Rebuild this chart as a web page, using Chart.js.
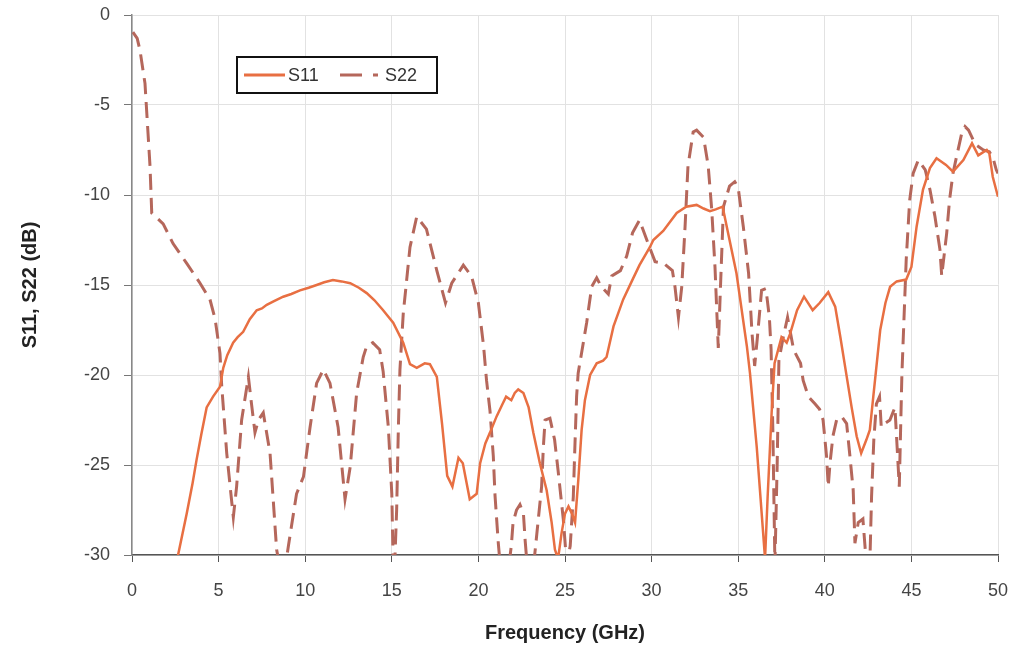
<!DOCTYPE html>
<html lang="en">
<head>
<meta charset="UTF-8">
<title>S11, S22</title>
<script src="https://cdn.jsdelivr.net/npm/chart.js"></script>
<style>
  html, body { margin: 0; padding: 0; background: #fff; }
  #box { width: 1023px; height: 656px; }
</style>
</head>
<body>
<div id="box"><canvas id="grafico"></canvas></div>
<script>
// frequency (GHz) and magnitude (dB)
var s11Freq = [2.5, 2.66, 3.16, 3.5, 3.73, 4.0, 4.31, 4.68, 5.08, 5.27, 5.5, 5.84, 6.1, 6.42, 6.8, 7.2, 7.5, 7.78, 8.2, 8.73,
  9.2, 9.7, 10.2, 10.66, 11.1, 11.6, 12.1, 12.6, 13.1, 13.55, 14.0, 14.5, 15.08, 15.66, 16.05, 16.44, 16.9, 17.2, 17.6, 17.9,
  18.2, 18.5, 18.85, 19.1, 19.5, 19.9, 20.1, 20.4, 20.67, 21.05, 21.4, 21.6, 21.9, 22.1, 22.3, 22.6, 22.9, 23.17, 23.55, 23.94,
  24.23, 24.42, 24.6, 24.8, 25.0, 25.2, 25.4, 25.58, 25.77, 25.96, 26.15, 26.45, 26.83, 27.2, 27.4, 27.8, 28.36, 28.9, 29.3, 29.9,
  30.1, 30.67, 31.45, 32.0, 32.6, 33.0, 33.37, 33.7, 34.1, 34.5, 34.9, 35.5, 35.68, 36.07, 36.55, 36.7, 36.93, 37.1, 37.5, 37.8,
  38.0, 38.4, 38.8, 39.3, 39.7, 40.2, 40.6, 40.9, 41.3, 41.55, 41.84, 42.1, 42.4, 42.6, 42.8, 43.0, 43.2, 43.5, 43.77, 44.15,
  44.7, 45.0, 45.3, 45.67, 46.07, 46.45, 47.0, 47.4, 48.0, 48.5, 48.86, 49.35, 49.5, 49.7, 50];
var s11Db = [-31, -30, -27.7, -26.0, -24.7, -23.3, -21.8, -21.2, -20.65, -19.6, -18.9, -18.2, -17.9, -17.6, -16.9, -16.4, -16.3, -16.1, -15.9, -15.65,
  -15.5, -15.3, -15.15, -15.0, -14.85, -14.72, -14.8, -14.9, -15.15, -15.45, -15.85, -16.4, -17.1, -18.2, -19.4, -19.6, -19.35, -19.4, -20.1, -22.7,
  -25.6, -26.2, -24.6, -24.9, -26.9, -26.6, -24.9, -23.8, -23.2, -22.3, -21.6, -21.2, -21.4, -21.0, -20.8, -21.0, -21.8, -23.2, -24.9, -26.4,
  -28.2, -29.7, -30.2, -28.8, -27.7, -27.3, -27.7, -28.2, -25.8, -23.05, -21.4, -20.0, -19.35, -19.2, -19.0, -17.3, -15.8, -14.7, -13.9, -12.9,
  -12.5, -12.0, -11.0, -10.65, -10.55, -10.75, -10.9, -10.8, -10.65, -12.5, -14.35, -18.4, -19.9, -24, -30.2, -26.75, -22.1, -19.35, -17.9, -18.2,
  -17.7, -16.4, -15.65, -16.4, -16.0, -15.4, -16.2, -17.9, -20.3, -21.8, -23.4, -24.35, -23.6, -23.05, -21.2, -19.35, -17.5, -16.0, -15.1, -14.8,
  -14.7, -14.0, -11.76, -9.7, -8.5, -7.96, -8.33, -8.7, -8.06, -7.13, -7.8, -7.5, -7.7, -9.0, -10.1];

var s22Freq = [0.05, 0.3, 0.46, 0.75, 1.04, 1.14, 1.8, 2.37, 3.16, 3.93, 4.5, 4.8, 5.08, 5.18, 5.47, 5.85, 6.04, 6.33, 6.72, 6.9,
  7.1, 7.3, 7.58, 7.97, 8.35, 8.6, 8.8, 9.03, 9.5, 9.9, 10.28, 10.66, 11.05, 11.43, 11.9, 12.3, 12.6, 12.97, 13.35, 13.55,
  13.9, 14.3, 14.5, 14.8, 15.0, 15.07, 15.15, 15.28, 15.38, 15.47, 15.66, 16.05, 16.44, 17.0, 17.6, 18.1, 18.46, 19.13, 19.6, 20.0,
  20.3, 20.47, 20.67, 20.86, 20.96, 21.15, 21.3, 21.7, 21.9, 22.0, 22.2, 22.4, 22.6, 22.7, 22.85, 23.15, 23.25, 23.46, 23.65, 23.75,
  23.85, 24.13, 24.4, 24.6, 24.9, 25.1, 25.3, 25.48, 25.57, 25.67, 25.76, 26.25, 26.54, 26.83, 27.1, 27.5, 27.7, 28.2, 28.56, 28.9,
  29.3, 29.8, 30.2, 30.7, 31.2, 31.35, 31.55, 31.74, 31.93, 32.1, 32.4, 32.6, 33.0, 33.27, 33.47, 33.66, 33.85, 34.0, 34.15, 34.5,
  34.8, 35.0, 35.3, 35.6, 35.8, 35.95, 36.1, 36.35, 36.6, 36.8, 36.9, 37.0, 37.12, 37.25, 37.35, 37.6, 37.85, 38.2, 38.6, 38.75,
  39.05, 39.43, 39.7, 39.9, 40.1, 40.2, 40.3, 40.47, 40.68, 40.97, 41.26, 41.45, 41.64, 41.74, 41.93, 42.2, 42.4, 42.6, 42.7, 42.83,
  42.98, 43.16, 43.26, 43.45, 43.76, 44.05, 44.3, 44.45, 44.7, 44.9, 45.1, 45.4, 45.8, 46.07, 46.36, 46.65, 46.75, 47.04, 47.2, 47.4,
  47.6, 47.9, 48.1, 48.3, 48.7, 49.15, 49.5, 49.7, 49.9, 50];
var s22Db = [-0.95, -1.3, -1.95, -3.8, -8.4, -11.0, -11.6, -12.7, -13.8, -14.9, -15.8, -16.9, -18.8, -20.6, -24.35, -27.9, -26.2, -22.5, -20.1, -21.6,
  -23.2, -22.5, -22.1, -24.35, -29.7, -31, -31, -29.5, -26.6, -25.65, -22.9, -20.45, -19.7, -20.45, -22.9, -26.9, -25.1, -21.0, -19.0, -18.4,
  -18.2, -18.6, -19.8, -22.9, -26.6, -30, -31, -27.5, -22.9, -19.7, -16.6, -12.9, -11.2, -11.9, -14.2, -16.0, -14.9, -13.9, -14.5, -16.0,
  -18.4, -20.3, -22.0, -24.5, -26.7, -29.35, -31, -31, -29.5, -28.2, -27.5, -27.2, -27.7, -29.2, -31, -31, -30, -28, -26.2, -24,
  -22.5, -22.4, -23.6, -25.3, -28, -30.5, -29.5, -26.75, -24, -21.2, -19.9, -17.1, -15.1, -14.6, -15.1, -15.5, -14.5, -14.2, -13.4, -12.1,
  -11.4, -12.7, -13.7, -13.8, -14.2, -15.1, -16.8, -15.1, -11.8, -8.4, -6.5, -6.4, -6.8, -8.4, -10.8, -14.0, -18.5, -14.5, -10.65, -9.5,
  -9.26, -9.6, -11.8, -14.35, -17.7, -19.5, -18.0, -15.3, -15.2, -16.8, -18.6, -23, -30.5, -25, -19.2, -17.9, -16.8, -18.6, -19.35, -20.3,
  -21.2, -21.6, -21.9, -22.5, -24.5, -26.2, -24.9, -23.4, -22.5, -22.3, -22.7, -24.5, -26.4, -29.35, -28.2, -28, -30.5, -30.5, -26.75, -23.6,
  -21.6, -21.2, -22.9, -22.7, -22.5, -21.8, -26.2, -20, -13.6, -10.3, -8.8, -8.06, -8.6, -9.7, -11.2, -13.05, -14.5, -12.1, -10.3, -8.8,
  -7.9, -6.6, -6.2, -6.4, -7.2, -7.5, -7.6, -7.9, -8.6, -8.8];

var nomes = ['S11', 'S22'];
var cores = ['#e86f42', '#b5675b'];

function pontos(xs, ys) {
  var lista = [];
  for (var i = 0; i < xs.length; i++) {
    lista.push({ x: xs[i], y: ys[i] });
  }
  return lista;
}

// legenda desenhada dentro da area do grafico
var legendaCaixa = {
  id: 'legendaCaixa',
  afterDraw: function (chart) {
    var ctx = chart.ctx;
    var a = chart.chartArea;
    var x0 = a.left + 105, y0 = a.top + 42, w = 200, h = 36;
    var meio = y0 + h / 2;
    ctx.save();
    ctx.fillStyle = '#fff';
    ctx.fillRect(x0, y0, w, h);
    ctx.strokeStyle = '#111';
    ctx.lineWidth = 2;
    ctx.strokeRect(x0, y0, w, h);

    ctx.lineWidth = 3;
    ctx.strokeStyle = cores[0];
    ctx.beginPath();
    ctx.moveTo(x0 + 7, meio);
    ctx.lineTo(x0 + 48, meio);
    ctx.stroke();

    ctx.strokeStyle = cores[1];
    ctx.setLineDash([22, 11]);
    ctx.beginPath();
    ctx.moveTo(x0 + 103, meio);
    ctx.lineTo(x0 + 141, meio);
    ctx.stroke();
    ctx.setLineDash([]);

    ctx.fillStyle = '#333';
    ctx.font = '18px "Liberation Sans", Arial, sans-serif';
    ctx.textBaseline = 'middle';
    ctx.fillText(nomes[0], x0 + 51, meio + 1);
    ctx.fillText(nomes[1], x0 + 148, meio + 1);
    ctx.restore();
  }
};

var fonteTick = { family: '"Liberation Sans", Arial, sans-serif', size: 18 };
var fonteTitulo = { family: '"Liberation Sans", Arial, sans-serif', size: 20, weight: 'bold' };

new Chart(document.getElementById('grafico'), {
  type: 'line',
  data: {
    datasets: [{
      label: nomes[0],
      data: pontos(s11Freq, s11Db),
      borderColor: cores[0],
      borderWidth: 2.5,
      pointRadius: 0,
      tension: 0,
      clip: 0
    }, {
      label: nomes[1],
      data: pontos(s22Freq, s22Db),
      borderColor: cores[1],
      borderWidth: 3,
      borderDash: [16, 8],
      pointRadius: 0,
      tension: 0,
      clip: 0
    }]
  },
  options: {
    responsive: true,
    maintainAspectRatio: false,
    animation: false,
    layout: { padding: { top: 15, right: 25, left: 0, bottom: 0 } },
    plugins: { legend: { display: false }, tooltip: { enabled: false } },
    scales: {
      x: {
        type: 'linear',
        min: 0, max: 50,
        ticks: { stepSize: 5, color: '#444', font: fonteTick, padding: 18, maxRotation: 0 },
        grid: { color: '#e2e2e2', tickColor: '#555', tickLength: 7 },
        border: { color: '#555', width: 1.5 },
        title: { display: true, text: 'Frequency (GHz)', color: '#222', font: fonteTitulo, padding: { top: 0, bottom: 11 } },
        afterFit: function (escala) {
          escala.height = 101;
          escala.paddingLeft = 0;
          escala.paddingRight = 0;
        }
      },
      y: {
        min: -30, max: 0,
        ticks: { stepSize: 5, color: '#444', font: fonteTick, padding: 14 },
        grid: { color: '#e2e2e2', tickColor: '#777', tickLength: 8 },
        border: { color: '#888', width: 1.5 },
        title: { display: true, text: 'S11, S22 (dB)', color: '#222', font: fonteTitulo, padding: { top: 18, bottom: 0 } },
        afterFit: function (escala) {
          escala.width = 132;
          escala.paddingTop = 0;
          escala.paddingBottom = 0;
        }
      }
    }
  },
  plugins: [legendaCaixa]
});
</script>
</body>
</html>
